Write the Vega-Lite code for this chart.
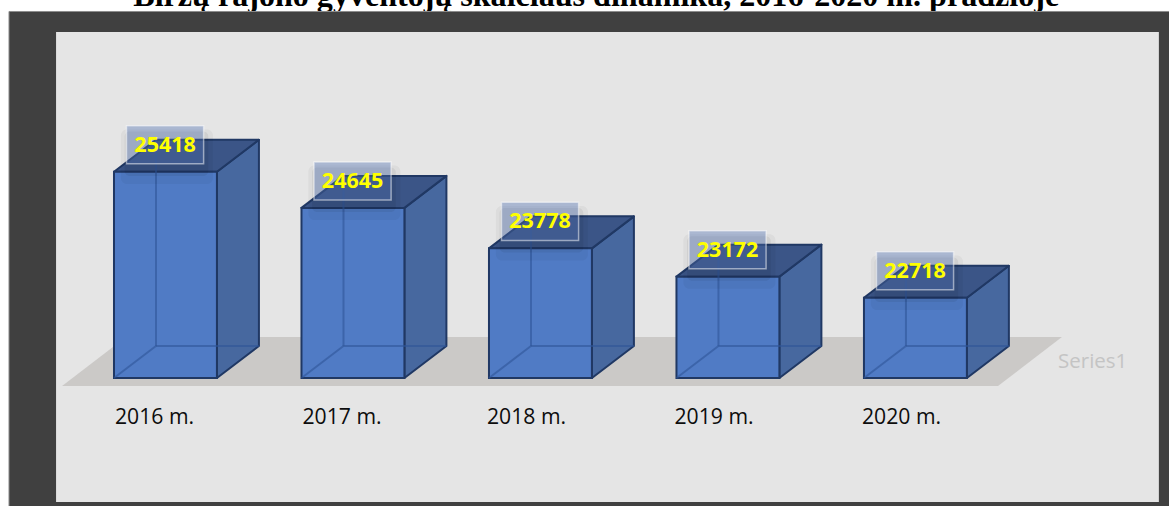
{
"$schema":"https://vega.github.io/schema/vega-lite/v6.json",
"width":1169,"height":506,"padding":0,
"autosize":{"type":"none"},
"background":"#ffffff",
"config":{"view":{"stroke":null}},
"datasets":{
"bars":[
{"year":2016,"label":"2016 m.","value":25418},
{"year":2017,"label":"2017 m.","value":24645},
{"year":2018,"label":"2018 m.","value":23778},
{"year":2019,"label":"2019 m.","value":23172},
{"year":2020,"label":"2020 m.","value":22718}],
"frame":[{"x0":2015.44,"x1":2021.7,"y0":18200,"y1":28854}],
"panel":[{"x0":2015.691,"x1":2021.573,"y0":18343,"y1":28414}],
"floor":[
{"yv":20829,"xa":2015.723,"xc":2020.715},
{"yv":21879,"xa":2016.064,"xc":2021.056}],
"notes":[
{"x":2018.572,"y":28975,"text":"Biržų rajono gyventojų skaičiaus dinamika, 2016-2020 m. pradžioje"}],
"series":[{"x":2021.035,"y":21343,"text":"Series1"}]
},
"data":{"name":"bars"},
"transform":[
{"calculate":"datum.year+0.549","as":"xr"},
{"calculate":"datum.year+0.224","as":"xb"},
{"calculate":"datum.year+0.773","as":"xbr"},
{"calculate":"datum.value+686","as":"top"},
{"calculate":"datum.year+0.0667","as":"lx0"},
{"calculate":"datum.year+0.478","as":"lx1"},
{"calculate":"datum.value+171","as":"ly0"},
{"calculate":"datum.value+986","as":"ly1"},
{"calculate":"datum.year+0.2725","as":"tx"},
{"calculate":"datum.value+560","as":"ty"},
{"calculate":"datum.year+(datum.year<2018?0.005:-0.0107)","as":"xl"}
],
"encoding":{
"x":{"field":"year","type":"quantitative","axis":null,"scale":{"domain":[2015.392,2021.627],"nice":false,"zero":false}},
"y":{"field":"value","type":"quantitative","axis":null,"scale":{"domain":[18257.1,29100],"nice":false,"zero":false}}
},
"layer":[
{"data":{"name":"notes"},"transform":[],"mark":{"type":"text","font":"Liberation Serif","fontWeight":"bold","fontSize":32.1,"baseline":"alphabetic","align":"center","color":"#000000"},
 "encoding":{"x":{"field":"x","type":"quantitative"},"y":{"field":"y","type":"quantitative"},"text":{"field":"text"}}},
{"data":{"name":"frame"},"transform":[],"mark":{"type":"rect","fill":"#404040","stroke":"#8c8c8c","strokeWidth":1},
 "encoding":{"x":{"field":"x0","type":"quantitative"},"x2":{"field":"x1"},"y":{"field":"y0","type":"quantitative"},"y2":{"field":"y1"}}},
{"data":{"name":"panel"},"transform":[],"mark":{"type":"rect","fill":"#e5e5e5"},
 "encoding":{"x":{"field":"x0","type":"quantitative"},"x2":{"field":"x1"},"y":{"field":"y0","type":"quantitative"},"y2":{"field":"y1"}}},
{"data":{"name":"floor"},"transform":[],"mark":{"type":"area","orient":"horizontal","fill":"#cbc9c7"},
 "encoding":{"y":{"field":"yv","type":"quantitative"},"x":{"field":"xa","type":"quantitative"},"x2":{"field":"xc"}}},
{"transform":[
 {"fold":["xr","xbr"],"as":["k","xv"]},
 {"calculate":"datum.k=='xr'?datum.value:datum.top","as":"yT"},
 {"calculate":"datum.k=='xr'?21000:21686","as":"yB"}],
 "mark":{"type":"area","fill":"#47689f","stroke":"#203864","strokeWidth":2,"strokeJoin":"round"},
 "encoding":{"x":{"field":"xv","type":"quantitative"},"y":{"field":"yT","type":"quantitative"},"y2":{"field":"yB"},"detail":{"field":"year","type":"nominal"}}},
{"transform":[
 {"fold":["value","top"],"as":["k","yv"]},
 {"calculate":"datum.k=='value'?datum.year:datum.xb","as":"xa"},
 {"calculate":"datum.k=='value'?datum.xr:datum.xbr","as":"xc"}],
 "mark":{"type":"area","orient":"horizontal","fill":"#3b5587","stroke":"#203864","strokeWidth":2,"strokeJoin":"round"},
 "encoding":{"y":{"field":"yv","type":"quantitative"},"x":{"field":"xa","type":"quantitative"},"x2":{"field":"xc"},"detail":{"field":"year","type":"nominal"}}},
{"mark":{"type":"rect","fill":"#507bc5","stroke":"#203864","strokeWidth":2},
 "encoding":{"x":{"field":"year","type":"quantitative"},"x2":{"field":"xr"},"y":{"field":"value","type":"quantitative"},"y2":{"datum":21000}}},
{"mark":{"type":"rule","stroke":"#2f5597","strokeWidth":2,"opacity":0.6},
 "encoding":{"x":{"field":"xb","type":"quantitative"},"y":{"field":"top","type":"quantitative"},"y2":{"datum":21686}}},
{"mark":{"type":"rule","stroke":"#2f5597","strokeWidth":2,"opacity":0.6},
 "encoding":{"x":{"field":"xb","type":"quantitative"},"x2":{"field":"xbr"},"y":{"datum":21686}}},
{"mark":{"type":"rule","stroke":"#2f5597","strokeWidth":2,"opacity":0.6},
 "encoding":{"x":{"field":"year","type":"quantitative"},"x2":{"field":"xb"},"y":{"datum":21000},"y2":{"datum":21686}}},
{"transform":[
 {"calculate":"datum.lx0-0.03","as":"a"},{"calculate":"datum.lx1+0.05","as":"b"},
 {"calculate":"datum.ly0-430","as":"c"},{"calculate":"datum.ly1-80","as":"d"}],
 "mark":{"type":"rect","fill":"#000000","opacity":0.04,"cornerRadius":6},
 "encoding":{"x":{"field":"a","type":"quantitative"},"x2":{"field":"b"},"y":{"field":"c","type":"quantitative"},"y2":{"field":"d"}}},
{"transform":[
 {"calculate":"datum.lx0-0.01","as":"a"},{"calculate":"datum.lx1+0.025","as":"b"},
 {"calculate":"datum.ly0-260","as":"c"},{"calculate":"datum.ly1-120","as":"d"}],
 "mark":{"type":"rect","fill":"#000000","opacity":0.06,"cornerRadius":5},
 "encoding":{"x":{"field":"a","type":"quantitative"},"x2":{"field":"b"},"y":{"field":"c","type":"quantitative"},"y2":{"field":"d"}}},
{"mark":{"type":"rect","fill":"#5272b5","fillOpacity":0.4,"stroke":"#ffffff","strokeOpacity":0.5,"strokeWidth":1.5},
 "encoding":{"x":{"field":"lx0","type":"quantitative"},"x2":{"field":"lx1"},"y":{"field":"ly0","type":"quantitative"},"y2":{"field":"ly1"}}},
{"mark":{"type":"text","font":"Open Sans","fontWeight":"bold","fontSize":21.5,"color":"#ffff00","align":"center","baseline":"middle"},
 "encoding":{"x":{"field":"tx","type":"quantitative"},"y":{"field":"ty","type":"quantitative"},"text":{"field":"value","type":"quantitative","format":"d"}}},
{"mark":{"type":"text","font":"Open Sans","fontSize":21.2,"color":"#0d0d0d","align":"left","baseline":"middle"},
 "encoding":{"x":{"field":"xl","type":"quantitative"},"y":{"datum":20150},"text":{"field":"label"}}},
{"data":{"name":"series"},"transform":[],"mark":{"type":"text","font":"Open Sans","fontSize":20.5,"color":"#c4c4c4","align":"left","baseline":"middle"},
 "encoding":{"x":{"field":"x","type":"quantitative"},"y":{"field":"y","type":"quantitative"},"text":{"field":"text"}}}
]
}
